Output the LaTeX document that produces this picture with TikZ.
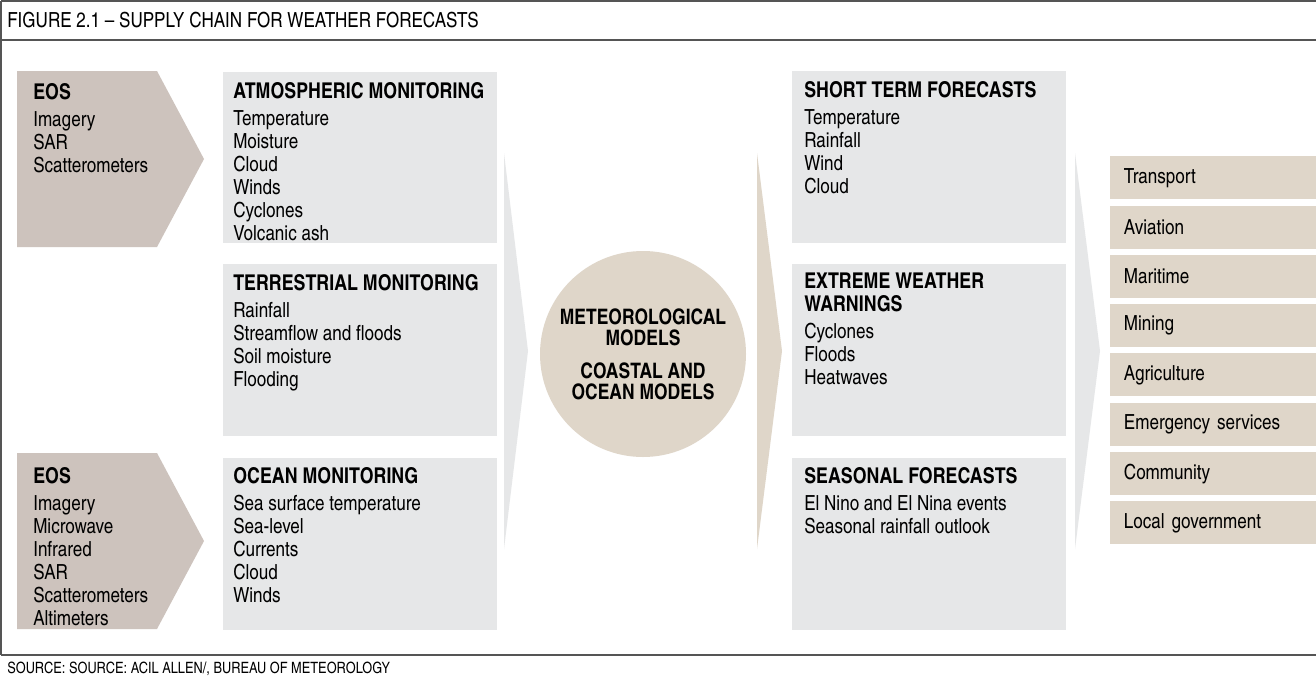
\documentclass[tikz,border=0pt]{standalone}
\usepackage{fontspec}
\setmainfont{texgyreheroscn}[Extension=.otf, UprightFont=*-regular, BoldFont=*-bold]
\definecolor{boxgray}{HTML}{E6E7E8}
\definecolor{beige}{HTML}{DFD6C9}
\definecolor{eosc}{HTML}{CDC3BD}
\definecolor{framec}{HTML}{555555}
\tikzset{
  frameline/.style={draw=framec, line width=1.1pt},
  txt/.style={anchor=north west, inner sep=0pt, align=left, font=\fontsize{15.6}{17.25}\selectfont},
  sbox/.style={fill=beige, anchor=north west, minimum width=154.5pt, minimum height=32.25pt,
     text width=134pt, inner xsep=10.25pt, inner ysep=0pt, align=left, font=\fontsize{15.6}{17.25}\selectfont},
}
\newcommand{\bhd}[1]{{\fontsize{16.3}{17.25}\selectfont\bfseries #1}}
\newcommand{\hd}[1]{\bhd{#1}\\[3pt]}
\begin{document}
\begin{tikzpicture}[x=0.75pt,y=-0.75pt]
\useasboundingbox (0,0) rectangle (1316,682);
\fill[white] (0,0) rectangle (1316,682);
% frame
\draw[frameline] (1,1) -- (1316,1);
\draw[frameline] (1,1) -- (1,655);
\draw[frameline] (1,40) -- (1316,40);
\draw[frameline] (1,655) -- (1316,655);
\node[anchor=base west, inner sep=0pt, font=\fontsize{15.6}{17}\selectfont] (title) at (7,27) {FIGURE 2.1 – SUPPLY CHAIN FOR WEATHER FORECASTS};
\node[anchor=base west, inner sep=0pt, font=\fontsize{11.7}{13}\selectfont] (source) at (7,673) {SOURCE: SOURCE: ACIL ALLEN/, BUREAU OF METEOROLOGY};
% EOS arrows
\fill[eosc] (17,71) -- (157,71) -- (204,159) -- (157,247) -- (17,247) -- cycle;
\fill[eosc] (17,453) -- (157,453) -- (204,541) -- (157,629) -- (17,629) -- cycle;
\node[txt] (eos1) at (33,83) {\hd{EOS}Imagery\\SAR\\Scatterometers};
\node[txt] (eos2) at (33,467) {\hd{EOS}Imagery\\Microwave\\Infrared\\SAR\\Scatterometers\\Altimeters};
% left column boxes
\fill[boxgray] (223,72) rectangle (497,243);
\fill[boxgray] (223,264) rectangle (497,436);
\fill[boxgray] (223,458) rectangle (497,630);
\node[txt] (atm) at (233,82) {\hd{ATMOSPHERIC MONITORING}Temperature\\Moisture\\Cloud\\Winds\\Cyclones\\Volcanic ash};
\node[txt] (ter) at (233,274) {\hd{TERRESTRIAL MONITORING}Rainfall\\Streamflow and floods\\Soil moisture\\Flooding};
\node[txt] (oce) at (233,467) {\hd{OCEAN MONITORING}Sea surface temperature\\Sea-level\\Currents\\Cloud\\Winds};
% chevrons
\fill[boxgray] (504,153) -- (528,351) -- (504,549) -- cycle;
\fill[beige] (757,153) -- (782,351) -- (757,549) -- cycle;
\fill[boxgray] (1075,153) -- (1100,351) -- (1075,549) -- cycle;
% circle
\node[circle, fill=beige, minimum size=154.5pt, inner sep=0pt] (models) at (643,354) {};
\node[align=center, inner sep=0pt, font=\fontsize{16}{15.75}\selectfont\bfseries] (modelsT) at (models.center) {METEOROLOGICAL\\MODELS\\[9pt]COASTAL AND\\OCEAN MODELS};
% middle column boxes
\fill[boxgray] (792,71) rectangle (1066,243);
\fill[boxgray] (792,264) rectangle (1066,436);
\fill[boxgray] (792,458) rectangle (1066,630);
\node[txt] (stf) at (804,81) {\hd{SHORT TERM FORECASTS}Temperature\\Rainfall\\Wind\\Cloud};
\node[txt] (eww) at (804,273) {\bhd{EXTREME WEATHER}\\\hd{WARNINGS}Cyclones\\Floods\\Heatwaves};
\node[txt] (sea) at (804,467) {\hd{SEASONAL FORECASTS}El Nino and El Nina events\\Seasonal rainfall outlook};
% sectors
\node[sbox] (s1) at (1110,156) {Transport};
\node[sbox] (s2) at (1110,205.3) {Aviation};
\node[sbox] (s3) at (1110,254.6) {Maritime};
\node[sbox] (s4) at (1110,303.9) {Mining};
\node[sbox] (s5) at (1110,353.2) {Agriculture};
\node[sbox] (s6) at (1110,402.5) {Emergency services};
\node[sbox] (s7) at (1110,451.8) {Community};
\node[sbox] (s8) at (1110,501.1) {Local government};
\end{tikzpicture}
\end{document}
